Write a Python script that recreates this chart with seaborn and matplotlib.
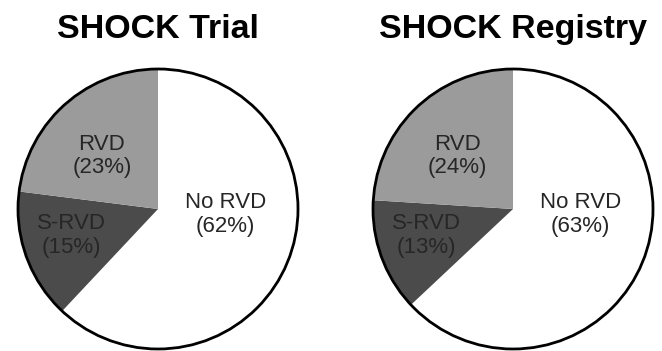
import matplotlib
matplotlib.use("Agg")
import matplotlib.pyplot as plt
import seaborn as sns

# data
categories = ["No RVD", "S-RVD", "RVD"]
trial_pct = [62, 15, 23]
registry_pct = [63, 13, 24]
titles = ["SHOCK Trial", "SHOCK Registry"]

# layout / style
colors = ["#ffffff", "#4b4b4b", "#9b9b9b"]
label_pos = {"No RVD": (0.48, -0.04), "S-RVD": (-0.62, -0.19), "RVD": (-0.40, 0.38)}

sns.set_theme(style="white")
plt.rcParams["font.family"] = ["Liberation Sans", "DejaVu Sans"]

fig = plt.figure(figsize=(6.62, 3.51), dpi=100)
W, H = 662, 351
centers = [(158, 209), (513, 209)]
r = 140

for (cx, cy), pct, title in zip(centers, [trial_pct, registry_pct], titles):
    ax = fig.add_axes([(cx - r) / W, (H - cy - r) / H, 2 * r / W, 2 * r / H])
    labels = [f"{c}\n({p}%)" for c, p in zip(categories, pct)]
    wedges, texts = ax.pie(pct, labels=labels, colors=colors, startangle=90,
                           counterclock=False, labeldistance=0.5,
                           wedgeprops=dict(linewidth=0),
                           textprops=dict(fontsize=16, ha="center", va="center",
                                          color="#262626", linespacing=1.15))
    for c, t in zip(categories, texts):
        t.set_position(label_pos[c])
        t.set_horizontalalignment("center")
    ax.add_patch(plt.Circle((0, 0), 1, fill=False, lw=2, color="black", clip_on=False))
    ax.set_xlim(-1, 1)
    ax.set_ylim(-1, 1)
    ax.set_aspect("equal")
    ax.set_title(title, fontsize=24.5, fontweight="bold", pad=22, color="black")

fig.savefig("out.png", dpi=100)
